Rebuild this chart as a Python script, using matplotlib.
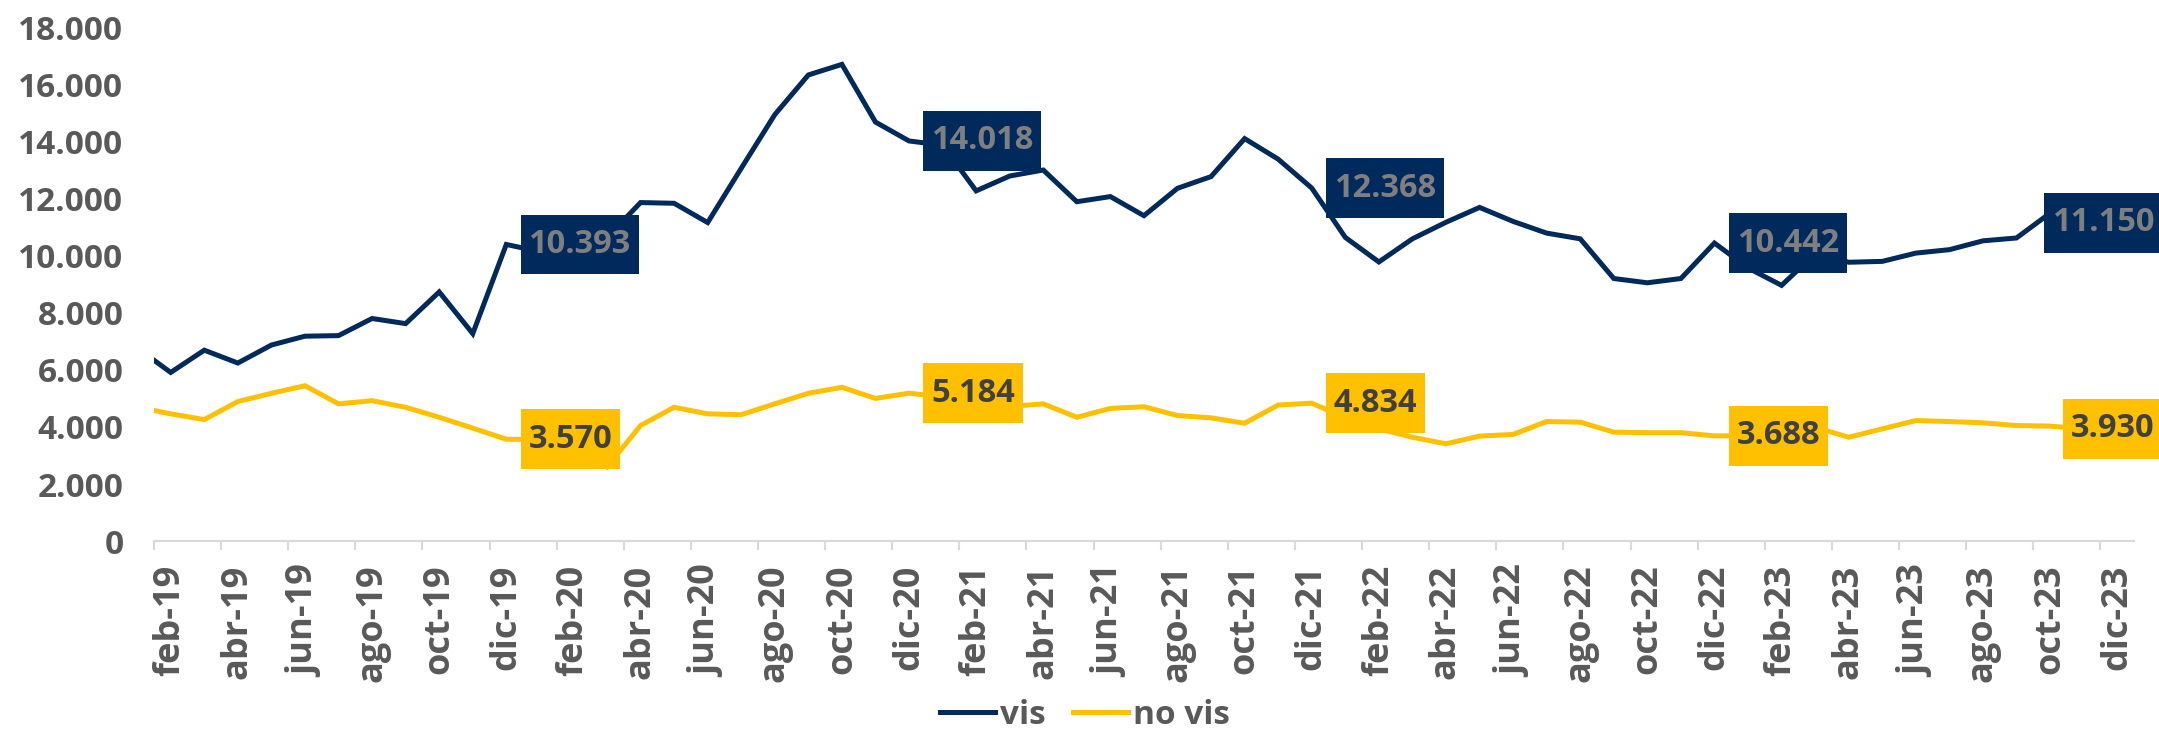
import numpy as np
import matplotlib
matplotlib.use("Agg")
import matplotlib.pyplot as plt
import matplotlib.transforms as mtransforms

plt.rcParams['font.family'] = ['Open Sans', 'DejaVu Sans']
plt.rcParams['font.weight'] = 'bold'

# monthly series, jan-19 .. nov-23 (axis starts half a month before feb-19)
meses = ['ene', 'feb', 'mar', 'abr', 'may', 'jun', 'jul', 'ago', 'sep', 'oct', 'nov', 'dic']
periodos = [f"{m}-{y}" for y in range(19, 24) for m in meses][:-1]

vis = [6770, 5910, 6690, 6240, 6870, 7180, 7200, 7800, 7620, 8730, 7270, 10393,
       10140, 10450, 10640, 11860, 11835, 11160, 13060, 14940, 16330, 16700, 14680, 14018,
       13870, 12270, 12790, 13000, 11890, 12070, 11400, 12360, 12770, 14100, 13380, 12368,
       10640, 9780, 10590, 11170, 11690, 11200, 10790, 10590, 9200, 9050, 9200, 10442,
       9570, 8960, 10070, 9770, 9800, 10090, 10210, 10520, 10620, 11490, 11150]
no_vis = [4690, 4460, 4260, 4890, 5180, 5445, 4810, 4920, 4690, 4340, 3960, 3570,
          3560, 3300, 2600, 4050, 4690, 4460, 4430, 4810, 5180, 5390, 5000, 5184,
          5050, 4900, 4720, 4810, 4340, 4650, 4710, 4400, 4320, 4130, 4770, 4834,
          4320, 3935, 3640, 3410, 3680, 3740, 4190, 4170, 3820, 3800, 3800, 3688,
          3700, 3850, 3990, 3640, 3935, 4225, 4190, 4145, 4050, 4030, 3930]

etiquetas = ['dic-19', 'dic-20', 'dic-21', 'dic-22', 'nov-23']
tick_labels = [f"{m}-{y}" for y in range(19, 24) for m in meses[1::2]]

azul = '#012a5c'
amarillo = '#ffc000'
gris = '#595959'

x = np.arange(len(periodos)) - 1  # feb-19 -> 0

fig = plt.figure(figsize=(21.59, 7.35), dpi=100)
ax = fig.add_axes([0.0713, 0.2637, 0.9171, 0.6992])

ax.plot(x, vis, color=azul, lw=3.6, label='vis', solid_joinstyle='miter')
ax.plot(x, no_vis, color=amarillo, lw=3.6, label='no vis', solid_joinstyle='miter')

ax.set_xlim(-0.5, 58.5)
ax.set_ylim(0, 18000)
ax.set_yticks(np.arange(0, 18001, 2000))
ax.set_yticklabels([f"{v:,.0f}".replace(',', '.') for v in np.arange(0, 18001, 2000)])

ax.set_xticks(np.arange(-0.5, 58, 2))
ax.set_xticklabels([])
ax.set_xticks(np.arange(0, 59, 2), minor=True)
ax.set_xticklabels(tick_labels, minor=True, rotation=90, va='top', ha='center')

ax.tick_params(axis='x', which='major', length=6.5, width=1.5, color='#d9d9d9')
ax.tick_params(axis='x', which='minor', length=0, pad=17, labelsize=26, labelcolor=gris)
ax.tick_params(axis='y', length=0, pad=22, labelsize=24, labelcolor=gris)

for s in ['top', 'right', 'left']:
    ax.spines[s].set_visible(False)
ax.spines['bottom'].set_color('#d9d9d9')
ax.spines['bottom'].set_linewidth(1.5)

# data labels
blend = mtransforms.blended_transform_factory(fig.transFigure, ax.transData)
for p in etiquetas:
    i = periodos.index(p)
    for serie, fondo, txtc in [(vis, azul, '#7f7f7f'), (no_vis, amarillo, '#404040')]:
        val = serie[i]
        txt = f"{val:,.0f}".replace(',', '.')
        bb = dict(boxstyle='square,pad=0.24', fc=fondo, ec='none', mutation_aspect=1.7)
        if i == len(periodos) - 1:
            ax.text(0.998, val, txt, transform=blend, ha='right', va='center',
                    fontsize=23.5, color=txtc, bbox=bb, zorder=5, clip_on=False)
        else:
            ax.annotate(txt, xy=(x[i], val), xytext=(16, 0), textcoords='offset points',
                        ha='left', va='center', fontsize=23.5, color=txtc, bbox=bb, zorder=5)

leg = fig.legend(loc='center', bbox_to_anchor=(0.5025, 0.027), ncol=2, frameon=False,
                 fontsize=24, handlelength=1.65, handletextpad=0.15, columnspacing=0.8)
for t in leg.get_texts():
    t.set_color(gris)

fig.savefig('out.png', dpi=100)
